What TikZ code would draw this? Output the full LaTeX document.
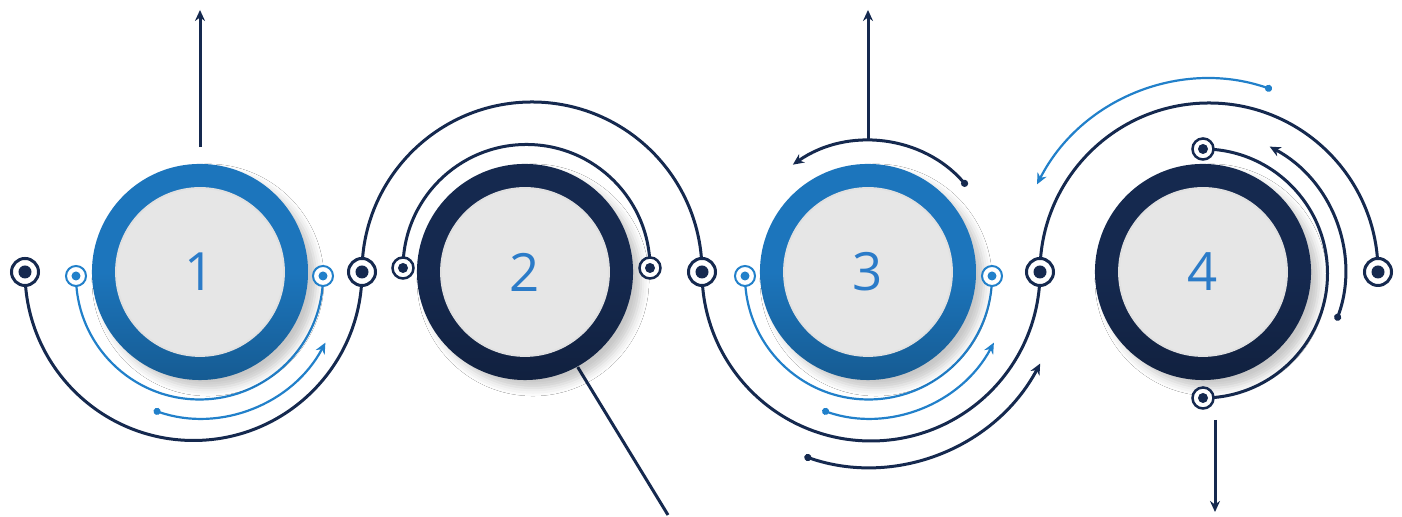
\documentclass[tikz,border=0pt]{standalone}
\usepackage{fontspec}
\setsansfont{Open Sans}
\usepackage{tikz}
\usetikzlibrary{arrows.meta, positioning, backgrounds, shadows.blur}
\definecolor{navy}{HTML}{15294F}
\definecolor{ringblue}{HTML}{1C75BC}
\definecolor{lineblue}{HTML}{2180CA}
\definecolor{digitblue}{HTML}{2B7BC8}
\definecolor{diskgray}{HTML}{E6E6E6}

\begin{document}
\begin{tikzpicture}[
  x=0.01cm, y=0.01cm,
  ring/.style={circle, minimum size=2.16cm, inner sep=0pt, shading=axis, shading angle=45,
    blur shadow={shadow xshift=0.08cm, shadow yshift=-0.08cm, shadow blur radius=0.08cm, shadow opacity=22}},
  bluering/.style={ring, top color=ringblue, bottom color=ringblue!78!black, middle color=ringblue},
  navyring/.style={ring, top color=navy, bottom color=navy!80!black, middle color=navy},
  disk/.style={circle, fill=diskgray, draw=black!12, line width=0.5pt, minimum size=1.68cm, inner sep=0pt,
    font=\sffamily\fontsize{15}{15}\selectfont, text=digitblue},
  bigdot/.style={circle, draw=navy, line width=0.03cm, fill=white, minimum size=0.27cm, inner sep=0pt,
    path picture={\fill[navy] (path picture bounding box.center) circle[radius=0.065cm];}},
  navydot/.style={circle, draw=navy, line width=0.025cm, fill=white, minimum size=0.21cm, inner sep=0pt,
    path picture={\fill[navy] (path picture bounding box.center) circle[radius=0.05cm];}},
  bluedot/.style={circle, draw=lineblue, line width=0.02cm, fill=white, minimum size=0.2cm, inner sep=0pt,
    path picture={\fill[lineblue] (path picture bounding box.center) circle[radius=0.045cm];}},
  navyline/.style={navy, line width=0.03cm},
  blueline/.style={lineblue, line width=0.022cm},
  arrow/.style={-{Stealth[length=0.11cm, width=0.1cm]}},
  dotarrow/.style={{Circle[length=0.07cm]}-{Stealth[length=0.11cm, width=0.1cm]}}
]

  % The four step circles sit on one horizontal line
  \node[bluering] (c1) at (200,243) {};
  \node[navyring] (c2) at (525,243) {};
  \node[bluering] (c3) at (868,243) {};
  \node[navyring] (c4) at (1203,243) {};
  \node[disk] (d1) at (c1) {1};
  \node[disk] (d2) at (c2) {2};
  \node[disk] (d3) at (c3) {3};
  \node[disk] (d4) at (c4) {4};

  % Junctions of the long wave
  \node[bigdot] (m1) at (25,243) {};
  \node[bigdot] (m2) at (362,243) {};
  \node[bigdot] (m3) at (702,243) {};
  \node[bigdot] (m4) at (1040,243) {};
  \node[bigdot] (m5) at (1378,243) {};

  % Small end points of the inner arcs
  \node[bluedot] (b1l) at (76,239) {};
  \node[bluedot] (b1r) at (323,239) {};
  \node[navydot] (n2l) at (403,247) {};
  \node[navydot] (n2r) at (650,247) {};
  \node[bluedot] (b3l) at (745,239) {};
  \node[bluedot] (b3r) at (992,239) {};
  \node[navydot] (n4t) at (1203,366) {};
  \node[navydot] (n4b) at (1203,117) {};

  % Free ends of the straight connectors
  \coordinate (o1) at (200,239);
  \coordinate (o3) at (868.5,239);
  \coordinate (o4) at (1209,243);
  \coordinate (t1) at (200,505);
  \coordinate (t3) at (868,505);
  \coordinate (b2) at (668,0);
  \coordinate (s4) at (1215,95);
  \coordinate (e4) at (1215,3);

  \begin{scope}[on background layer]
    \fill[white] (0,0) rectangle (1402,515);

    % Long wave through all five junctions
    \draw[navyline] (m1.center) arc[start angle=180, end angle=360, radius=168.5]
      arc[start angle=180, end angle=0, radius=170]
      arc[start angle=180, end angle=360, radius=169]
      arc[start angle=180, end angle=0, radius=169];

    % Inner arcs round each circle
    \draw[blueline] (b1l.center) arc[start angle=180, end angle=360, radius=123.5];
    \draw[navyline] (n2l.center) arc[start angle=180, end angle=0, radius=123.5];
    \draw[blueline] (b3l.center) arc[start angle=180, end angle=360, radius=123.5];
    \draw[navyline] (n4t.center) arc[start angle=90, end angle=-90, radius=124.5];

    % Curved arrows
    \draw[blueline, dotarrow] ([shift={(251:142)}]o1) arc[start angle=251, end angle=332, radius=142];
    \draw[blueline, dotarrow] ([shift={(251:142)}]o3) arc[start angle=251, end angle=332, radius=142];
    \draw[navyline, dotarrow] ([shift={(41:131)}]c3.center) arc[start angle=41, end angle=125, radius=131];
    \draw[navyline, dotarrow] ([shift={(251:195)}]c3.center) arc[start angle=251, end angle=332, radius=195];
    \draw[blueline, dotarrow] ([shift={(71:193)}]o4) arc[start angle=71, end angle=153, radius=193];
    \draw[navyline, dotarrow] ([shift={(-20:142)}]c4.center) arc[start angle=-20, end angle=62, radius=142];

    % Straight connectors
    \draw[navyline, arrow] ([yshift=0.16cm]c1.north) -- (t1);
    \draw[navyline, arrow] ([yshift=1.31cm]c3.center) -- (t3);
    \draw[navyline] (c2.-61) -- (b2);
    \draw[navyline, arrow] (s4) -- (e4);
  \end{scope}

  \useasboundingbox (0,0) rectangle (1402,515);
\end{tikzpicture}
\end{document}
